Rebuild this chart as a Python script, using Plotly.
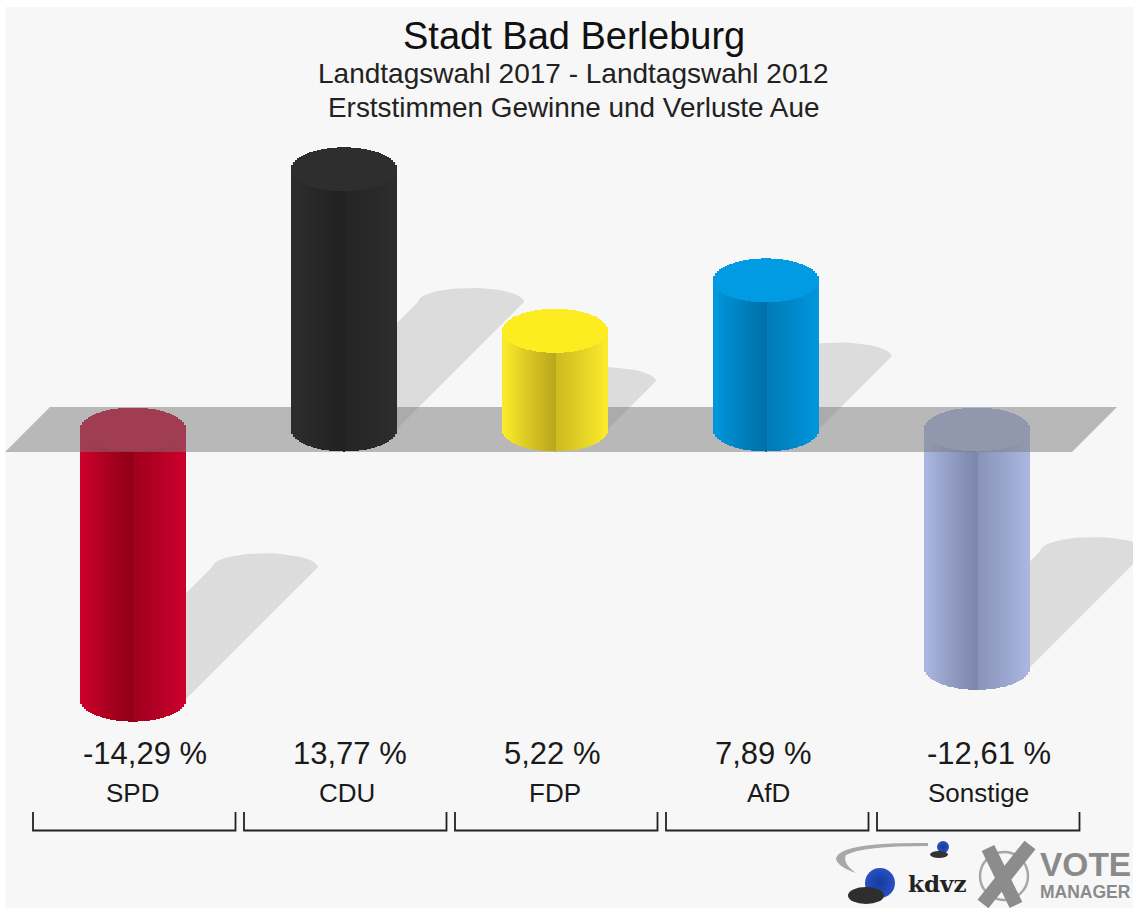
import math
import plotly.graph_objects as go

# ---- data ----
parties = ["SPD", "CDU", "FDP", "AfD", "Sonstige"]
changes = [-14.29, 13.77, 5.22, 7.89, -12.61]
value_labels = ["-14,29 %", "13,77 %", "5,22 %", "7,89 %", "-12,61 %"]
edge_colors = [(203, 0, 44), (45, 45, 45), (250, 234, 42), (0, 150, 220), (170, 182, 224)]
core_colors = [(145, 0, 24), (33, 33, 33), (188, 168, 30), (0, 112, 168), (125, 135, 172)]
cap_colors = [(200, 0, 42), (46, 46, 46), (252, 236, 32), (0, 155, 226), (168, 180, 224)]
value_label_x = [144.5, 350, 552, 763, 989]
name_label_x = [132.5, 346.5, 555, 768.5, 979]

W, H = 1133, 911
UNIT_X = 211.0        # px per category step
X0_PX = 132.5         # px of first category
UNIT_Y = 18.9         # px per percentage point
Y0_PX = 429.5         # px of zero line
HALF = 53.0 / UNIT_X  # cylinder half width, axis units
ELL = 22.0 / UNIT_Y   # cap half height, axis units
STRIPS = 53
SHEAR = 0.49
XR = [-X0_PX / UNIT_X, (W - X0_PX) / UNIT_X]
YR = [(Y0_PX - H) / UNIT_Y, Y0_PX / UNIT_Y]


def mix(a, b, k):
    return "rgb(%d,%d,%d)" % tuple(round(p + (q - p) * k) for p, q in zip(a, b))


def offsets():
    return [-1 + (2 * i + 1) / STRIPS for i in range(STRIPS)]


fig = go.Figure()

# shadows (bottom subplot)
for i, v in enumerate(changes):
    d = SHEAR * abs(v)
    dx = d * UNIT_Y / UNIT_X
    cy = min(v, 0)
    xs = [i - HALF, i - HALF + dx]
    ys = [cy, cy + d]
    for k in range(1, 24):
        a = math.pi * k / 24
        xs.append(i + dx - HALF * math.cos(a))
        ys.append(cy + d + (14 / UNIT_Y) * math.sin(a))
    xs += [i + HALF + dx, i + HALF, i - HALF]
    ys += [cy + d, cy, cy]
    fig.add_trace(go.Scatter(x=xs, y=ys, mode="lines", fill="toself", line=dict(width=0),
                             fillcolor="rgba(0,0,0,0.105)", hoverinfo="skip", xaxis="x", yaxis="y"))


def add_cylinder(i, v, xa, ya):
    ts = offsets()
    xs = [i + t * HALF for t in ts]
    arc = [ELL * math.sqrt(1 - t * t) for t in ts]
    top_level = max(v, 0)
    bot_level = min(v, 0)
    base = [bot_level - a for a in arc]
    body = [(top_level + a) - b for a, b in zip(arc, base)]
    cols = []
    for t in ts:
        k = 1 - min(abs(t) / 0.95, 1) ** 1.15
        if t > 0:
            k *= 0.72
        cols.append(mix(edge_colors[i], core_colors[i], k))
    fig.add_trace(go.Bar(x=xs, y=body, base=base, width=2 * HALF / STRIPS,
                         marker=dict(color=cols, line=dict(width=0)),
                         hoverinfo="skip", xaxis=xa, yaxis=ya))
    cap_base = [top_level - a for a in arc]
    cap_h = [2 * a for a in arc]
    fig.add_trace(go.Bar(x=xs, y=cap_h, base=cap_base, width=2 * HALF / STRIPS,
                         marker=dict(color=["rgb(%d,%d,%d)" % cap_colors[i]] * STRIPS, line=dict(width=0)),
                         hoverinfo="skip", xaxis=xa, yaxis=ya))


# negative cylinders, under the plane
for i, v in enumerate(changes):
    if v < 0:
        add_cylinder(i, v, "x2", "y2")

# translucent plane
plane_x = [-0.391, 4.666, 4.453, -0.604, -0.391]
plane_y = [ELL * 1.02, ELL * 1.02, -ELL * 1.02, -ELL * 1.02, ELL * 1.02]
fig.add_trace(go.Scatter(x=plane_x, y=plane_y, mode="lines", fill="toself", line=dict(width=0),
                         fillcolor="rgba(122,122,122,0.5)", hoverinfo="skip", xaxis="x2", yaxis="y2"))

# positive cylinders, above the plane
for i, v in enumerate(changes):
    if v > 0:
        add_cylinder(i, v, "x3", "y3")

# brackets under each category
bx, by = [], []
b_top = (Y0_PX - 812) / UNIT_Y
b_bot = (Y0_PX - 830.5) / UNIT_Y
for i in range(len(parties)):
    left = i - 99.5 / UNIT_X
    right = i + 103 / UNIT_X
    bx += [left, left, right, right, None]
    by += [b_top, b_bot, b_bot, b_top, None]
fig.add_trace(go.Scatter(x=bx, y=by, mode="lines", line=dict(color="#222222", width=1.8),
                         hoverinfo="skip", xaxis="x3", yaxis="y3"))


def px(x):
    return x / W


def py(y):
    return 1 - y / H


def label(text, x, y, size, color="#111", family="Liberation Sans", **kw):
    fig.add_annotation(text=text, x=px(x), y=py(y), xref="paper", yref="paper", showarrow=False,
                       font=dict(size=size, color=color, family=family), xanchor="center",
                       yanchor="middle", **kw)


label("Stadt Bad Berleburg", 574, 36, 38)
label("Landtagswahl 2017 - Landtagswahl 2012", 573, 73, 28, "#222")
label("Erststimmen Gewinne und Verluste Aue", 573, 107, 27.9, "#222")

for t, n, vx, nx in zip(value_labels, parties, value_label_x, name_label_x):
    label(t, vx, 753, 31, "#1a1a1a")
    label(n, nx, 793, 26, "#1a1a1a")

shapes = [
    dict(type="rect", xref="paper", yref="paper", x0=px(5), x1=1, y0=py(908), y1=py(7),
         fillcolor="#f7f7f7", line=dict(width=0), layer="below"),
    # swoosh
    dict(type="path", xref="paper", yref="paper",
         path="M %f %f Q %f %f %f %f Q %f %f %f %f Q %f %f %f %f Q %f %f %f %f Z" % (
             px(928), py(843), px(838), py(842), px(836), py(859),
             px(838), py(867), px(856), py(873),
             px(842), py(863), px(846), py(855),
             px(862), py(846), px(928), py(846)),
         fillcolor="#a8a8a8", line=dict(width=0)),
    # globe shadows
    dict(type="circle", xref="paper", yref="paper", x0=px(848), x1=px(884), y0=py(904), y1=py(887),
         fillcolor="#2e2e2e", line=dict(width=0)),
    dict(type="circle", xref="paper", yref="paper", x0=px(930), x1=px(948), y0=py(858), y1=py(851),
         fillcolor="#333", line=dict(width=0)),
    # ring of the X
    dict(type="circle", xref="paper", yref="paper", x0=px(980), x1=px(1028), y0=py(900), y1=py(852),
         fillcolor="rgba(0,0,0,0)", line=dict(color="#a6a6a6", width=2.5)),
    # X
    dict(type="line", xref="paper", yref="paper", x0=px(988), x1=px(1016), y0=py(848), y1=py(905),
         line=dict(color="#8c8c8c", width=14)),
    dict(type="line", xref="paper", yref="paper", x0=px(1030), x1=px(983), y0=py(845), y1=py(904),
         line=dict(color="#8c8c8c", width=14)),
]

# globes as gradient markers
fig.add_trace(go.Scatter(x=[(880 - X0_PX) / UNIT_X, (943 - X0_PX) / UNIT_X],
                         y=[(Y0_PX - 883) / UNIT_Y, (Y0_PX - 847) / UNIT_Y],
                         mode="markers",
                         marker=dict(size=[30, 12], color="#2a50c4", opacity=1, line=dict(width=0),
                                     gradient=dict(type="radial", color="#153a9e")),
                         hoverinfo="skip", xaxis="x3", yaxis="y3"))

label("<b>kdvz</b>", 937, 883, 23, "#222", "DejaVu Serif")
label("<b>VOTE</b>", 1085, 864, 33.5, "#8a8a8a")
label("<b>MANAGER</b>", 1085, 892, 17.5, "#8a8a8a")

axis = dict(range=XR, visible=False, fixedrange=True)
yaxis = dict(range=YR, visible=False, fixedrange=True)
fig.update_layout(
    width=W, height=H, margin=dict(l=0, r=0, t=0, b=0),
    paper_bgcolor="white", plot_bgcolor="rgba(0,0,0,0)",
    showlegend=False, barmode="overlay", bargap=0,
    xaxis=dict(axis, domain=[0, 1]), yaxis=dict(yaxis, domain=[0, 1]),
    xaxis2=dict(axis, overlaying="x"), yaxis2=dict(yaxis, overlaying="y"),
    xaxis3=dict(axis, overlaying="x"), yaxis3=dict(yaxis, overlaying="y"),
    shapes=shapes,
)

fig.write_html("out.html", config=dict(displayModeBar=False),
               post_script="document.body.style.margin='0';document.body.style.overflow='hidden';")
